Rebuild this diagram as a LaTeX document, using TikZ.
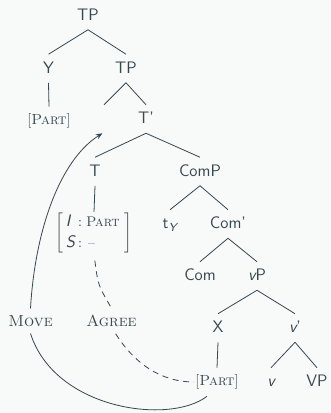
\documentclass[tikz,border=0pt]{standalone}
\usepackage{fontspec}
\usetikzlibrary{arrows.meta}

\definecolor{ink}{HTML}{37474F}
\definecolor{paper}{HTML}{F8F9F9}

\tikzset{
  % syntactic category labels (sans)
  cat/.style={font=\fontsize{12.5}{14}\sffamily, text=ink, inner xsep=1pt,
              inner ysep=5.6pt, text height=8.6pt, text depth=1.2pt},
  % feature bundles in small caps
  feat/.style={font=\fontsize{11}{13}\selectfont, text=ink, inner sep=5pt},
  % operation labels (Move, Agree)
  oper/.style={font=\fontsize{12}{14}\selectfont, text=ink, inner sep=5pt},
  branch/.style={draw=ink, line width=0.6pt},
  movepath/.style={draw=ink, line width=0.6pt},
  agreepath/.style={draw=ink, line width=0.6pt, dash pattern=on 4.5pt off 3.5pt},
}
\newcommand{\featname}[1]{{\fontsize{12.5}{14}\sffamily\itshape #1}}

\begin{document}
\begin{tikzpicture}[x=0.75pt, y=-0.75pt]
  \fill[paper] (0,0) rectangle (330,413);
  \useasboundingbox (0,0) rectangle (330,413);

  % tree nodes
  \node[cat] (tp0)   at (88,15.5)  {TP};
  \node[cat] (y)     at (48.5,68.5){Y};
  \node[cat] (tp1)   at (126,68.5) {TP};
  \node[feat] (party) at (49,121)  {[\textsc{Part}]};
  \node[cat] (spec)  at (104,119)  {};
  \node[cat] (tbar)  at (146,119)  {T'};
  \node[cat] (t)     at (95,171.5) {T};
  \node[cat] (comp)  at (200,171.5){ComP};
  \node[inner sep=0pt, text=ink, font=\fontsize{10.5}{13}\selectfont] (mat) at (94,233)
    {$\left[\renewcommand{\arraystretch}{1.2}\begin{tabular}{@{\hspace{2pt}}l@{\hspace{4pt}}}
       \featname{I}\hspace{6pt}:\hspace{3pt}\textsc{Part}\\
       \featname{S}\hspace{2.5pt}:\hspace{4.5pt}–
     \end{tabular}\right]$};
  \node[cat] (ty)    at (170,224)  {t\textsubscript{\itshape Y}};
  \node[cat] (combar)at (228,224)  {Com'};
  \node[cat] (com)   at (200,276)  {Com};
  \node[cat] (vp)    at (257,276)  {\itshape v\upshape P};
  \node[cat] (x)     at (218,328)  {X};
  \node[cat] (vbar)  at (295,328)  {\itshape v\upshape '};
  \node[feat] (partx) at (217,382) {[\textsc{Part}]};
  \node[cat] (v)     at (271,382)  {\itshape v};
  \node[cat] (vpp)   at (317,382)  {VP};

  \node[oper] (move)  at (30.5,321)  {\textsc{Move}};
  \node[oper] (agree) at (111.5,321) {\textsc{Agree}};

  % branches
  \draw[branch] (tp0.south) -- (y.north);
  \draw[branch] (tp0.south) -- (tp1.north);
  \draw[branch] (y.south) -- (party.north);
  \draw[branch] (tp1.south) -- (spec.north);
  \draw[branch] (tp1.south) -- (tbar.north);
  \draw[branch] (tbar.south) -- (t.north);
  \draw[branch] (tbar.south) -- (comp.north);
  \draw[branch] (t.south) -- (mat.north);
  \draw[branch] (comp.south) -- (ty.north);
  \draw[branch] (comp.south) -- (combar.north);
  \draw[branch] (combar.south) -- (com.north);
  \draw[branch] (combar.south) -- (vp.north);
  \draw[branch] (vp.south) -- (x.north);
  \draw[branch] (vp.south) -- (vbar.north);
  \draw[branch] (x.south) -- (partx.north);
  \draw[branch] (vbar.south) -- (v.north);
  \draw[branch] (vbar.south) -- (vpp.north);

  % movement of the [Part] feature
  \draw[movepath] (partx.235) .. controls (170,425) and (55,410) .. (move.south);
  \draw[movepath, -{Stealth[length=5pt, width=4pt]}]
    (move.north) .. controls (35,230) and (60,160) .. (spec.south west);

  % agreement between T and the lower [Part]
  \draw[agreepath, shorten <=5pt] (mat.south) .. controls (98,285) .. (agree.north);
  \draw[agreepath, shorten >=-4pt] (agree.-72) .. controls (140,372) and (170,382) .. (partx.west);
\end{tikzpicture}
\end{document}
